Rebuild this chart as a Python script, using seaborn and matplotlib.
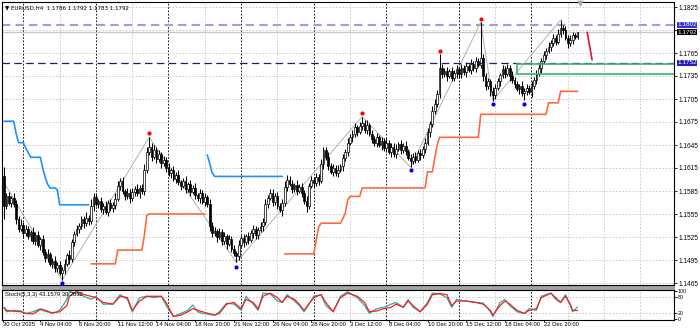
import matplotlib
matplotlib.use("Agg")
import matplotlib.pyplot as plt
from matplotlib.patches import Rectangle
import numpy as np
import pandas as pd
import seaborn as sns

# ---------------- data ----------------
symbol_header = "\u25BC EURUSD,H4  1.1786 1.1792 1.1783 1.1792"
stoch_header = "Stoch(5,3,3) 43.1579 30.2632"

first_open = 1.1604
closes = [
    1.1566, 1.1578, 1.1570, 1.1576, 1.1568, 1.1549, 1.1536, 1.1541, 1.1530, 1.1535,
    1.1526, 1.1531, 1.1520, 1.1527, 1.1515, 1.1522, 1.1506, 1.1498, 1.1503, 1.1490,
    1.1494, 1.1484, 1.1489, 1.1478, 1.1482, 1.1490, 1.1501, 1.1496, 1.1518, 1.1529,
    1.1535, 1.1540, 1.1548, 1.1543, 1.1550, 1.1546, 1.1565, 1.1577, 1.1568, 1.1572,
    1.1561, 1.1566, 1.1558, 1.1570, 1.1563, 1.1567, 1.1575, 1.1592, 1.1598, 1.1585,
    1.1578, 1.1583, 1.1576, 1.1584, 1.1588, 1.1582, 1.1589, 1.1585, 1.1612, 1.1636,
    1.1642, 1.1630, 1.1638, 1.1627, 1.1633, 1.1621, 1.1626, 1.1615, 1.1608, 1.1612,
    1.1601, 1.1606, 1.1597, 1.1592, 1.1598, 1.1588, 1.1594, 1.1584, 1.1589, 1.1580,
    1.1576, 1.1582, 1.1571, 1.1577, 1.1568, 1.1540, 1.1530, 1.1533, 1.1525, 1.1531,
    1.1520, 1.1526, 1.1516, 1.1522, 1.1510, 1.1504, 1.1500, 1.1515, 1.1524, 1.1518,
    1.1526, 1.1521, 1.1530, 1.1536, 1.1527, 1.1534, 1.1539, 1.1545, 1.1568, 1.1576,
    1.1582, 1.1571, 1.1578, 1.1566, 1.1560, 1.1569, 1.1590, 1.1600, 1.1594, 1.1588,
    1.1593, 1.1585, 1.1590, 1.1583, 1.1572, 1.1566, 1.1592, 1.1600, 1.1596, 1.1603,
    1.1598, 1.1620, 1.1638, 1.1630, 1.1618, 1.1610, 1.1615, 1.1608, 1.1613, 1.1617,
    1.1628, 1.1636, 1.1648, 1.1655, 1.1660, 1.1668, 1.1662, 1.1670, 1.1674, 1.1665,
    1.1671, 1.1660, 1.1653, 1.1648, 1.1655, 1.1645, 1.1650, 1.1641, 1.1648, 1.1636,
    1.1643, 1.1633, 1.1640, 1.1646, 1.1639, 1.1644, 1.1637, 1.1628, 1.1624, 1.1630,
    1.1626, 1.1635, 1.1632, 1.1640, 1.1648, 1.1662, 1.1672, 1.1690, 1.1698, 1.1712,
    1.1745, 1.1738, 1.1742, 1.1735, 1.1741, 1.1733, 1.1739, 1.1744, 1.1737, 1.1745,
    1.1740, 1.1748, 1.1743, 1.1751, 1.1746, 1.1755, 1.1750, 1.1758, 1.1735, 1.1722,
    1.1728, 1.1715, 1.1710, 1.1720, 1.1728, 1.1736, 1.1744, 1.1738, 1.1746, 1.1735,
    1.1730, 1.1724, 1.1718, 1.1722, 1.1713, 1.1715, 1.1720, 1.1714, 1.1722, 1.1730,
    1.1738, 1.1745, 1.1755, 1.1762, 1.1768, 1.1773, 1.1778, 1.1785, 1.1780, 1.1790,
    1.1798, 1.1795, 1.1785, 1.1778, 1.1782, 1.1788, 1.1786, 1.1792,
]
upper_wick_pips = [
    12, 4, 6, 3, 7, 5, 4, 8, 3, 6,
    5, 3, 7, 4, 6, 3, 5, 4, 7, 3,
    4, 6, 3, 5, 4, 6, 3, 7, 5, 4,
    6, 3, 5, 4, 7, 4, 9, 5, 6, 3,
    5, 4, 6, 3, 5, 4, 7, 6, 4, 5,
    3, 6, 4, 5, 3, 6, 4, 5, 8, 6,
    13, 5, 7, 4, 6, 3, 5, 4, 6, 3,
    5, 4, 6, 3, 4, 6, 3, 5, 4, 6,
    3, 5, 4, 6, 3, 7, 4, 5, 3, 6,
    4, 5, 3, 6, 4, 5, 3, 6, 4, 5,
    3, 6, 4, 5, 3, 4, 6, 5, 7, 4,
    6, 5, 4, 6, 3, 5, 8, 6, 4, 5,
    3, 6, 4, 5, 3, 7, 4, 5, 3, 6,
    4, 7, 5, 4, 6, 3, 5, 4, 6, 3,
    5, 4, 6, 5, 4, 6, 3, 5, 8, 4,
    6, 3, 5, 4, 6, 3, 5, 4, 6, 3,
    5, 4, 6, 3, 5, 4, 6, 3, 5, 4,
    6, 3, 5, 4, 6, 5, 4, 6, 7, 5,
    19, 6, 4, 5, 3, 6, 4, 5, 3, 6,
    4, 5, 3, 6, 4, 5, 3, 47, 6, 4,
    5, 3, 6, 4, 5, 3, 6, 4, 5, 3,
    6, 4, 5, 3, 6, 4, 5, 3, 6, 4,
    5, 6, 4, 5, 3, 6, 4, 5, 3, 6,
    10, 4, 5, 3, 6, 4, 3, 0,
]
lower_wick_pips = [
    17, 5, 3, 6, 4, 7, 5, 3, 6, 4,
    3, 6, 4, 5, 3, 7, 4, 6, 5, 3,
    6, 4, 5, 3, 9, 5, 3, 6, 4, 5,
    3, 5, 4, 6, 3, 5, 4, 6, 3, 5,
    4, 6, 3, 5, 4, 6, 5, 3, 6, 4,
    5, 3, 6, 4, 5, 3, 6, 4, 5, 3,
    4, 6, 3, 5, 4, 6, 3, 5, 4, 6,
    3, 5, 4, 6, 3, 5, 4, 6, 3, 5,
    4, 6, 3, 5, 4, 7, 5, 4, 6, 3,
    5, 4, 6, 3, 5, 4, 8, 5, 3, 6,
    4, 5, 3, 6, 4, 5, 3, 6, 4, 5,
    3, 6, 4, 5, 3, 7, 4, 5, 3, 6,
    4, 5, 3, 6, 4, 8, 5, 3, 6, 4,
    5, 3, 6, 4, 5, 3, 6, 4, 5, 3,
    6, 4, 5, 3, 6, 4, 5, 3, 6, 4,
    5, 3, 6, 4, 5, 3, 6, 4, 5, 3,
    6, 4, 5, 3, 6, 4, 5, 3, 8, 4,
    5, 3, 6, 4, 5, 3, 6, 4, 5, 3,
    6, 5, 4, 6, 3, 5, 4, 6, 3, 5,
    4, 6, 3, 5, 4, 6, 3, 5, 6, 5,
    4, 6, 7, 5, 3, 6, 4, 5, 3, 6,
    4, 5, 3, 6, 4, 9, 5, 3, 6, 4,
    5, 3, 6, 4, 5, 3, 6, 4, 5, 3,
    4, 5, 3, 6, 4, 5, 3, 3,
]

# trailing-stop style step lines (start bar, per-bar levels)
blue_stop_1_start = 0
blue_stop_1 = ([1.1676] * 5 + [1.1660] + [1.1648] * 3 + [1.1641, 1.1635] + [1.1629] * 5
               + [1.1615, 1.1603, 1.1594] + [1.1589] * 3 + [1.1587] + [1.1567] * 13)
blue_stop_2_start = 84
blue_stop_2 = [1.1632, 1.1621, 1.1609] + [1.1604] * 29
orange_stop_1_start = 36
orange_stop_1 = [1.1490] * 11 + [1.1508] * 11 + [1.1527, 1.1553] + [1.1555] * 24
orange_stop_2_start = 116
orange_stop_2 = ([1.1503] * 13 + [1.1520, 1.1538] + [1.1543] * 9 + [1.1549, 1.1556, 1.1573]
                 + [1.1578] * 5 + [1.1589] * 27 + [1.1610] * 3 + [1.1628, 1.1645]
                 + [1.1655] * 17 + [1.1685] * 28 + [1.1700] * 5 + [1.1715] * 8)

# zigzag and fractal dots
zigzag_bars = [0, 24, 60, 96, 148, 168, 197, 202, 230]
zigzag_prices = [1.1596, 1.1469, 1.1655, 1.1492, 1.1682, 1.1616, 1.1805, 1.1703, 1.1808]
red_dot_bars = [60, 148, 180, 197]
red_dot_prices = [1.1661, 1.1687, 1.1768, 1.1810]
blue_dot_bars = [24, 96, 168, 202, 215]
blue_dot_prices = [1.1465, 1.1486, 1.1612, 1.1698, 1.1698]

# horizontal levels
level_high = 1.1802
level_mid = 1.1752
bid_price = 1.1792
zone_start_bar = 212
zone_top = 1.1751
zone_bottom = 1.1738
arrow_bars = [241, 243]
arrow_prices = [1.1792, 1.1756]

# stochastic samples
stoch_bars = [0, 1, 4, 7, 9, 12, 15, 18, 20, 23, 26, 27, 30, 33, 36, 38, 41, 45, 48, 51,
              53, 56, 59, 62, 65, 67, 70, 73, 76, 78, 80, 82, 87, 89, 92, 95, 98, 100, 103, 105,
              107, 110, 113, 115, 117, 120, 122, 124, 128, 131, 133, 136, 139, 142, 146, 149, 151, 154, 157, 160,
              162, 165, 167, 169, 172, 175, 177, 180, 183, 185, 187, 191, 195, 198, 201, 202, 205, 207, 209, 212,
              215, 217, 220, 222, 226, 228, 230, 232, 234, 235, 237]
stoch_k = [39, 26, 31, 29, 20, 26, 37, 29, 20, 31, 70, 98, 92, 81, 70, 81, 53, 53, 87, 70,
           26, 76, 81, 76, 81, 48, 9, 20, 31, 50, 26, 20, 14, 26, 57, 53, 31, 81, 53, 31,
           92, 90, 64, 59, 87, 64, 48, 26, 81, 87, 48, 26, 81, 97, 76, 48, 20, 37, 42, 53,
           59, 42, 70, 42, 26, 59, 92, 90, 76, 42, 70, 64, 59, 57, 26, 9, 59, 70, 48, 26,
           20, 37, 31, 81, 92, 70, 59, 87, 48, 26, 43.16]
stoch_d = [42, 31, 28, 26, 20, 18, 34, 26, 22, 26, 48, 81, 98, 87, 81, 76, 59, 53, 81, 76,
           31, 64, 81, 81, 81, 59, 9, 14, 26, 37, 31, 26, 14, 20, 53, 59, 37, 70, 59, 37,
           81, 92, 76, 59, 81, 70, 53, 31, 76, 87, 59, 26, 76, 92, 81, 59, 26, 29, 37, 42,
           53, 42, 64, 48, 26, 53, 87, 90, 87, 48, 64, 64, 59, 53, 31, 14, 48, 64, 53, 31,
           20, 31, 37, 76, 92, 76, 59, 81, 53, 31, 30.26]

price_ticks = [1.1465, 1.1495, 1.1525, 1.1555, 1.1585, 1.1615, 1.1645, 1.1675,
               1.1705, 1.1735, 1.1765, 1.1795, 1.1825]
time_labels = ["30 Oct 2025", "4 Nov 04:00", "6 Nov 20:00", "11 Nov 12:00", "14 Nov 04:00",
               "18 Nov 20:00", "21 Nov 12:00", "26 Nov 04:00", "28 Nov 20:00", "3 Dec 12:00",
               "8 Dec 04:00", "10 Dec 20:00", "15 Dec 12:00", "18 Dec 04:00", "22 Dec 20:00"]

# ---------------- style ----------------
sns.set_theme(style="white")
plt.rcParams['font.family'] = ['Liberation Sans', 'DejaVu Sans']
plt.rcParams['axes.linewidth'] = 0.8

W, H = 700, 328
fig = plt.figure(figsize=(W / 100, H / 100), dpi=100)
fig.patch.set_facecolor('white')


def px_rect(x0, y0, x1, y1):
    return [x0 / W, 1 - y1 / H, (x1 - x0) / W, (y1 - y0) / H]


ax = fig.add_axes(px_rect(2, 2, 674, 285))
ax2 = fig.add_axes(px_rect(2, 290, 674, 320))

X0, DX = 4.0, 2.42
xlim = ((2 - X0) / DX, (674 - X0) / DX)
# price <-> pixel mapping: 1.1825 at y=7 px, 0.003 per 23 px
P_PER_PX = 0.003 / 23
ylim = (1.1825 - (285 - 7) * P_PER_PX, 1.1825 + (7 - 2) * P_PER_PX)

# ---------------- candles ----------------
n = len(closes)
idx = np.arange(n)
c = np.array(closes)
o = np.concatenate([[first_open], c[:-1]])
pip = 0.0001
hi = np.maximum(o, c) + np.array(upper_wick_pips[:n]) * pip
lo = np.minimum(o, c) - np.array(lower_wick_pips[:n]) * pip

# grid
grid_bars = [7.95 + 15 * k for k in range(19)]
week_bars = [7.95 + 30 * k for k in range(8)]
for a in (ax, ax2):
    for gb in grid_bars:
        if gb < xlim[1]:
            a.axvline(gb, color='#c4c4c4', lw=0.6, ls=(0, (2, 2)), zorder=0)
    for wb in week_bars:
        a.axvline(wb, color='black', lw=0.6, ls=(0, (2, 2)), zorder=0.5)
for pt in price_ticks:
    ax.axhline(pt, color='#c4c4c4', lw=0.6, ls=(0, (2, 2)), zorder=0)
for lv in (20, 80):
    ax2.axhline(lv, color='#c4c4c4', lw=0.6, ls=(0, (2, 2)), zorder=0)

# levels
ax.axhline(level_high, color='#9c9ce8', lw=1.5, ls=(0, (4, 2.5)), zorder=1)
ax.axhline(bid_price, color='#c8c8c8', lw=1.0, zorder=1)
ax.axhline(level_mid, color='#1c1c78', lw=0.9, ls=(0, (6, 3.5)), zorder=4)
ax.add_patch(Rectangle((zone_start_bar, zone_bottom), xlim[1] - zone_start_bar + 2,
                       zone_top - zone_bottom, fill=False, ec='#3cb371', lw=1.2, zorder=4))

# zigzag
zz = pd.DataFrame({'bar': zigzag_bars, 'price': zigzag_prices})
sns.lineplot(data=zz, x='bar', y='price', ax=ax, color='#b0b0b0', lw=0.7, sort=False,
             estimator=None, zorder=1.5)

# step lines
for start, vals, col in [(blue_stop_1_start, blue_stop_1, '#1e90ff'),
                         (blue_stop_2_start, blue_stop_2, '#1e90ff'),
                         (orange_stop_1_start, orange_stop_1, '#ff6a3d'),
                         (orange_stop_2_start, orange_stop_2, '#ff6a3d')]:
    seg = pd.DataFrame({'bar': np.arange(start, start + len(vals)), 'price': vals})
    sns.lineplot(data=seg, x='bar', y='price', ax=ax, color=col, lw=1.2,
                 estimator=None, zorder=2)

# candles
up = c >= o
body_h = np.maximum(np.abs(c - o), 0.00004)
ax.vlines(idx, lo, hi, color='black', lw=0.75, zorder=3)
ax.bar(idx, body_h, bottom=np.minimum(o, c), width=0.72,
       color=np.where(up, 'white', 'black'), edgecolor='black', linewidth=0.5, zorder=3.5)

# dots
sns.scatterplot(x=red_dot_bars, y=red_dot_prices, ax=ax, color='red', s=9, linewidth=0, zorder=5)
sns.scatterplot(x=blue_dot_bars, y=blue_dot_prices, ax=ax, color='#0000ee', s=9, linewidth=0, zorder=5)

# red arrow line
ax.plot(arrow_bars, arrow_prices, color='#dc143c', lw=1.2, zorder=5)

# chart-shift marker
ax.scatter([238], [ylim[1] - 1.2 * P_PER_PX], marker='v', s=10, color='#a8a8a8', zorder=6, clip_on=False)

ax.set_xlim(*xlim)
ax.set_ylim(*ylim)
ax.set_xlabel('')
ax.set_ylabel('')
ax.set_xticks([])
ax.yaxis.tick_right()
ax.set_yticks(price_ticks)
# the 1.1795 label sits under the bid-price box, as in the reference
ax.set_yticklabels(["" if abs(t - 1.1795) < 1e-6 else f"{t:.4f}" for t in price_ticks])
ax.tick_params(axis='y', length=2.5, width=0.6, labelsize=4.7, pad=0.8, colors='black', right=True)
for s in ax.spines.values():
    s.set_color('black')
    s.set_linewidth(0.8)

# price boxes on the right
tr = ax.get_yaxis_transform()
for price, fc in [(level_high, '#3434d8'), (bid_price, 'black'), (level_mid, '#2020c8')]:
    ax.text(1.0045, price, f"{price:.4f}", transform=tr, ha='left', va='center', fontsize=4.6,
            color='white', clip_on=False, zorder=10,
            bbox=dict(boxstyle='square,pad=0.08', fc=fc, ec='none'))

ax.text(3 / 672, 1 - 3 / 283, symbol_header, transform=ax.transAxes, ha='left', va='top',
        fontsize=4.0, color='black', family=['DejaVu Sans'])

# separator band
fig.add_artist(Rectangle((2 / W, 1 - 289 / H), 672 / W, 3.5 / H, transform=fig.transFigure,
                         fc='#a4a4a4', ec='#808080', lw=0.5))

# ---------------- stochastic ----------------
st = pd.DataFrame({'bar': stoch_bars, 'K': stoch_k, 'D': stoch_d})
sns.lineplot(data=st, x='bar', y='K', ax=ax2, color='#20b2aa', lw=0.9, estimator=None)
sns.lineplot(data=st, x='bar', y='D', ax=ax2, color='#ff1a1a', lw=0.9, estimator=None)
ax2.set_xlim(*xlim)
ax2.set_ylim(-3.3, 103.3)
ax2.set_xlabel('')
ax2.set_ylabel('')
ax2.yaxis.tick_right()
ax2.set_yticks([0, 20, 80, 100])
ax2.set_yticklabels(['0', '20', '80', '100'])
ax2.tick_params(axis='y', length=2, width=0.6, labelsize=3.8, pad=0.8, colors='black', right=True)
tick_pos = [max(16 * k - 1, -0.5) for k in range(len(time_labels))]
ax2.set_xticks(tick_pos)
ax2.set_xticklabels(time_labels, ha='left', fontsize=4.2)
ax2.tick_params(axis='x', length=1.5, width=0.6, pad=0.3, colors='black', bottom=True)
for s in ax2.spines.values():
    s.set_color('black')
    s.set_linewidth(0.8)
ax2.text(3 / 672, 0.94, stoch_header, transform=ax2.transAxes, ha='left', va='top',
         fontsize=4.2, color='black')

fig.savefig('out.png', dpi=100)
